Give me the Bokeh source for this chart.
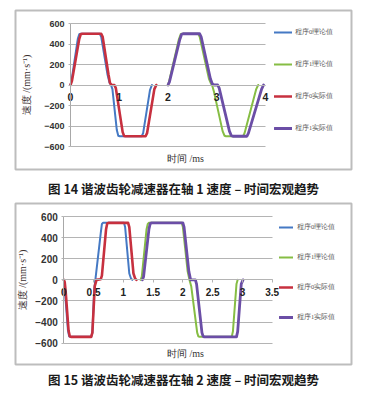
import math
from bokeh.plotting import figure
from bokeh.models import (Legend, LegendItem, Label, Range1d, FixedTicker,
                          LinearAxis, Grid, BoxAnnotation)
from bokeh.embed import file_html
from bokeh.resources import INLINE

# ---------------- data: figure 14 (axis 1) ----------------
f14_xticks = [0, 1, 2, 3, 4]
f14_yticks = [-600, -400, -200, 0, 200, 400, 600]
f14_p0_theory_x = [0, 0.02, 0.15, 0.18, 0.21, 0.60, 0.63, 0.76, 0.80, 0.83, 0.86, 0.95, 0.98, 1.01, 1.46, 1.49, 1.63, 1.67]
f14_p0_theory_y = [0, 40, 450, 495, 500, 500, 470, 100, 25, 0, -40, -440, -495, -500, -500, -470, -50, 0]
f14_p1_theory_x = [2.0, 2.02, 2.22, 2.26, 2.29, 2.62, 2.65, 2.84, 2.88, 2.91, 2.94, 3.12, 3.16, 3.19, 3.54, 3.57, 3.81, 3.85]
f14_p1_theory_y = [0, 30, 440, 495, 500, 500, 470, 60, 15, -10, -60, -450, -495, -500, -500, -470, -40, 0]
f14_p0_actual_x = [0, 0.03, 0.18, 0.21, 0.24, 0.63, 0.66, 0.78, 0.81, 0.84, 0.90, 0.93, 1.07, 1.10, 1.13, 1.54, 1.57, 1.72, 1.76]
f14_p0_actual_y = [0, 40, 450, 495, 500, 500, 470, 100, 20, 2, 0, -30, -460, -497, -500, -500, -470, -40, 0]
f14_p1_actual_x = [2.0, 2.03, 2.24, 2.28, 2.31, 2.65, 2.68, 2.87, 2.91, 2.95, 3.02, 3.05, 3.26, 3.30, 3.33, 3.62, 3.65, 3.92, 3.96]
f14_p1_actual_y = [0, 30, 440, 495, 500, 500, 470, 60, 10, 0, 0, -30, -450, -495, -500, -500, -470, -40, 0]

# ---------------- data: figure 15 (axis 2) ----------------
f15_xticks = [0, 0.5, 1, 1.5, 2, 2.5, 3, 3.5]
f15_yticks = [-600, -400, -200, 0, 200, 400, 600]
f15_p0_theory_x = [0, 0.01, 0.07, 0.09, 0.11, 0.46, 0.48, 0.51, 0.53, 0.62, 0.64, 0.66, 1.01, 1.03, 1.10, 1.13, 1.15]
f15_p0_theory_y = [0, -40, -480, -535, -540, -540, -500, -100, 0, 440, 530, 540, 540, 500, 60, 10, 0]
f15_p1_theory_x = [1.29, 1.31, 1.39, 1.41, 1.43, 1.98, 2.00, 2.08, 2.11, 2.14, 2.24, 2.26, 2.28, 2.82, 2.84, 2.90, 2.92]
f15_p1_theory_y = [0, 30, 480, 530, 540, 540, 500, 80, 0, -60, -500, -535, -540, -540, -490, -40, 0]
f15_p0_actual_x = [0, 0.015, 0.03, 0.08, 0.10, 0.12, 0.46, 0.48, 0.52, 0.55, 0.62, 0.64, 0.71, 0.73, 0.75, 1.08, 1.10, 1.17, 1.20, 1.22]
f15_p0_actual_y = [0, -20, -100, -480, -535, -540, -540, -500, -60, 0, 5, 40, 480, 535, 540, 540, 500, 60, 10, 0]
f15_p1_actual_x = [1.32, 1.34, 1.43, 1.45, 1.47, 2.00, 2.02, 2.10, 2.13, 2.21, 2.23, 2.32, 2.34, 2.36, 2.90, 2.92, 2.98, 3.01]
f15_p1_actual_y = [0, 30, 480, 530, 540, 540, 500, 80, 0, 0, -40, -500, -535, -540, -540, -490, -40, 0]

legend_labels = ["程序0理论值", "程序1理论值", "程序0实际值", "程序1实际值"]
y_label = "速度 /(mm·s⁻¹)"
x_label = "时间 /ms"
caption14 = "图 14  谐波齿轮减速器在轴 1 速度 – 时间宏观趋势"
caption15 = "图 15  谐波齿轮减速器在轴 2 速度 – 时间宏观趋势"

# ---------------- styles / layout (page pixels) ----------------
W, H = 368, 394
C_BLUE = "#4579c4"
C_GREEN = "#86bd44"
C_RED = "#c7303f"
C_PURPLE = "#6b4ea6"
C_BOX = "#262626"
C_GRID = "#b4b4b4"
CJK = "Noto Sans CJK SC"
SERIF = "Liberation Serif"
SANS = "Liberation Sans"

# page canvas: x to the right, y downward, in pixels
p = figure(width=W, height=H, output_backend="svg", toolbar_location=None,
           x_range=Range1d(0, W), y_range=Range1d(H, 0),
           x_axis_location=None, y_axis_location=None, min_border=0,
           background_fill_color="white", border_fill_color="white")
p.grid.visible = False
p.outline_line_color = None
p.title.visible = False

HAS_CROSS = "cross_bounds" in Grid.properties()


def add_chart(name, xr, xticks, yticks, frame, series, ylab_font, xlab_font,
              tick_out_x, ylab_standoff, box, xlab_pos, legend_pos, leg_spacing,
              glyph_w, leg_standoff):
    left, right, top, bottom = frame
    x0, x1 = xr
    sx = (x1 - x0) / (right - left)
    ky = 1200.0 / (bottom - top)
    xn, yn = "x" + name, "y" + name
    p.extra_x_ranges[xn] = Range1d(x0 - left * sx, x0 + (W - left) * sx)
    p.extra_y_ranges[yn] = Range1d(-600 - (H - bottom) * ky, 600 + top * ky)

    # dark frame box
    p.add_layout(BoxAnnotation(left=box[0], right=box[1], top=box[2], bottom=box[3],
                               fill_alpha=0, line_color=C_BOX, line_width=2,
                               level="underlay"))

    # horizontal grid lines, bounded to the plot area
    if HAS_CROSS:
        g = Grid(dimension=1, ticker=FixedTicker(ticks=yticks), x_range_name=xn,
                 y_range_name=yn, cross_bounds=(x0, x1), grid_line_color=C_GRID,
                 grid_line_width=1)
        p.add_layout(g)
    else:
        for v in yticks:
            ga = LinearAxis(x_range_name=xn, y_range_name=yn, fixed_location=v,
                            bounds=(x0, x1), ticker=FixedTicker(ticks=[]),
                            axis_line_color=C_GRID, major_label_text_font_size="0px",
                            major_tick_out=0, minor_tick_out=0)
            p.add_layout(ga, "below")

    # x axis along the zero line
    xa = LinearAxis(x_range_name=xn, y_range_name=yn, fixed_location=0,
                    bounds=(x0, x1), ticker=FixedTicker(ticks=xticks))
    xa.axis_line_color = C_GRID
    xa.major_tick_in = 0
    xa.major_tick_out = tick_out_x
    xa.major_tick_line_color = C_GRID
    xa.minor_tick_line_color = None
    xa.major_label_standoff = 8 - tick_out_x
    xa.major_label_text_font = SANS
    xa.major_label_text_font_style = "bold"
    xa.major_label_text_font_size = xlab_font
    xa.major_label_text_color = "#222222"
    p.add_layout(xa, "below")

    # y axis at x = 0
    ya = LinearAxis(x_range_name=xn, y_range_name=yn, fixed_location=x0,
                    bounds=(-600, 600), ticker=FixedTicker(ticks=yticks))
    ya.axis_line_color = "#a8a8a8"
    ya.major_tick_in = 0
    ya.major_tick_out = 2
    ya.major_tick_line_color = C_GRID
    ya.minor_tick_line_color = None
    ya.major_label_standoff = 4
    ya.major_label_text_font = SANS
    ya.major_label_text_font_style = "bold"
    ya.major_label_text_font_size = ylab_font
    ya.major_label_text_color = "#333333"
    ya.axis_label = y_label
    ya.axis_label_text_font = SERIF
    ya.axis_label_text_font_style = "normal"
    ya.axis_label_text_font_size = "10px"
    ya.axis_label_text_color = "#3a3030"
    ya.axis_label_standoff = ylab_standoff
    p.add_layout(ya, "left")

    # x axis title
    p.add_layout(Label(x=xlab_pos[0], y=xlab_pos[1], text=x_label, text_align="center",
                       text_baseline="middle", text_font=SERIF,
                       text_font_size="10px", text_color="#333333"))

    items = []
    for (xs, ys, col, lw), lab in zip(series, legend_labels):
        r = p.line(xs, ys, x_range_name=xn, y_range_name=yn, line_color=col,
                   line_width=lw, line_join="round", line_cap="round")
        items.append(LegendItem(label=lab, renderers=[r]))
    legend = Legend(items=items, location=legend_pos, orientation="vertical",
                    spacing=leg_spacing, glyph_width=glyph_w, glyph_height=20,
                    label_height=20, label_standoff=leg_standoff, padding=0, margin=0,
                    border_line_color=None, background_fill_alpha=0,
                    label_text_font=SERIF, label_text_font_size="6.5px",
                    label_text_color="#555555")
    p.add_layout(legend)


# figure 14: legend items centred at y = 32, 64, 96, 128 -> box 22..138
add_chart("1", (0, 4), f14_xticks, f14_yticks, (70, 265, 23, 146),
          [(f14_p0_theory_x, f14_p0_theory_y, C_BLUE, 2),
           (f14_p1_theory_x, f14_p1_theory_y, C_GREEN, 2),
           (f14_p0_actual_x, f14_p0_actual_y, C_RED, 2.6),
           (f14_p1_actual_x, f14_p1_actual_y, C_PURPLE, 2.8)],
          ylab_font="9px", xlab_font="10.5px", tick_out_x=0, ylab_standoff=9,
          box=(15, 351, 10, 169), xlab_pos=(185, 157.5),
          legend_pos=(274, H - 138), leg_spacing=12, glyph_w=18, leg_standoff=3)

# figure 15: legend items centred at y = 227, 257, 287, 317 -> box 217..327
add_chart("2", (0, 3.5), f15_xticks, f15_yticks, (63.3, 271.7, 216, 342.7),
          [(f15_p0_theory_x, f15_p0_theory_y, C_BLUE, 2),
           (f15_p1_theory_x, f15_p1_theory_y, C_GREEN, 2),
           (f15_p0_actual_x, f15_p0_actual_y, C_RED, 2.6),
           (f15_p1_actual_x, f15_p1_actual_y, C_PURPLE, 2.8)],
          ylab_font="10px", xlab_font="10px", tick_out_x=3, ylab_standoff=4,
          box=(15, 351, 203, 364), xlab_pos=(185, 353),
          legend_pos=(279, H - 327), leg_spacing=10, glyph_w=14, leg_standoff=4)

for txt, yy in [(caption14, 188), (caption15, 379)]:
    p.add_layout(Label(x=184.5, y=yy, text=txt, text_align="center",
                       text_baseline="middle", text_font=CJK,
                       text_font_size="12.5px", text_font_style="bold",
                       text_color="#1a1a1a"))

open("out.html", "w").write(file_html(p, INLINE))
